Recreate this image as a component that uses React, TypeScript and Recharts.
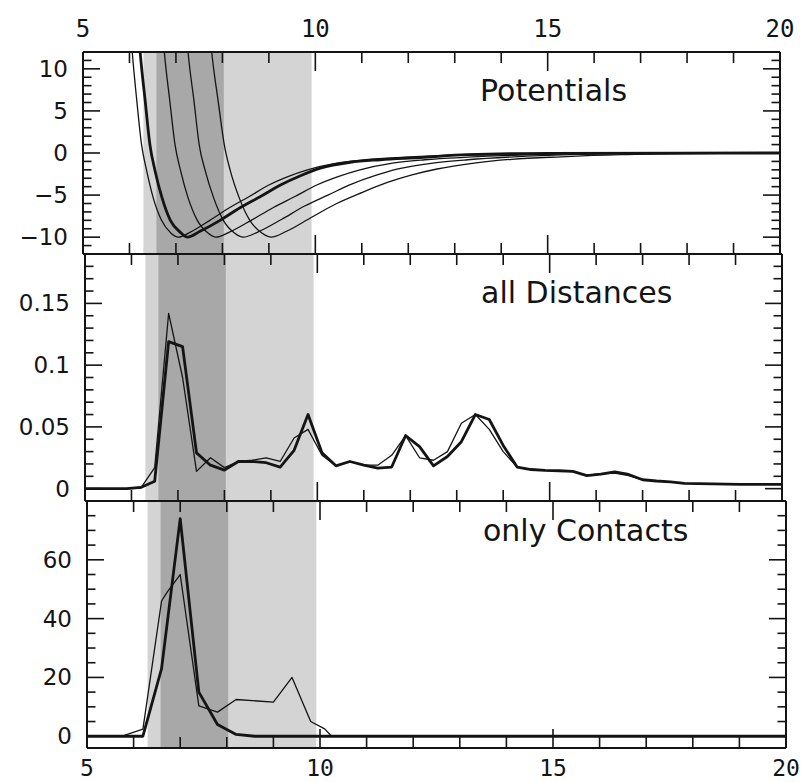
import React from 'react';
import { LineChart, Line, XAxis, YAxis, ReferenceArea } from 'recharts';

const INK = '#141414';
const LIGHT_BAND = '#d4d4d4';
const DARK_BAND = '#a8a8a8';

// ---- shared x axis ----
const xTicks = [5, 6, 7, 8, 9, 10, 11, 12, 13, 14, 15, 16, 17, 18, 19, 20];
const xMajor = [5, 10, 15, 20];
const xLabels = ['5', '10', '15', '20'];

// shaded ranges
const lightBand = [6.3, 9.92];
const darkBand = [6.58, 8.03];

// ---- panel 1: Potentials ----
const potTicks = [-11, -10, -9, -8, -7, -6, -5, -4, -3, -2, -1, 0, 1, 2, 3, 4, 5, 6, 7, 8, 9, 10, 11];
const potMajor = [-10, -5, 0, 5, 10];
const potLabels = ['\u221210', '\u22125', '0', '5', '10'];

const potAx = [5.92, 6.06, 6.16, 6.26, 6.37, 6.51, 6.69, 6.89, 7.05, 7.31, 7.73, 8.15, 8.57, 9.0, 9.41, 9.83, 10.46, 11.08, 11.91, 12.9, 14.59, 20];
const potAy = [24, 12, 6.1, 1.0, -2.1, -5.3, -8.0, -9.5, -10, -9.4, -8.0, -6.5, -5.2, -3.8, -2.8, -2.0, -1.2, -0.8, -0.5, -0.25, -0.05, 0];
const potBx = [6.09, 6.23, 6.34, 6.44, 6.55, 6.7, 6.88, 7.09, 7.25, 7.52, 7.95, 8.38, 8.81, 9.25, 9.68, 10.11, 10.75, 11.4, 12.25, 13.27, 15.01, 20];
const potBy = [24, 12, 6.1, 1.0, -2.1, -5.3, -8.0, -9.4, -10, -9.3, -8.0, -6.5, -5.2, -3.8, -2.7, -1.8, -1.1, -0.8, -0.55, -0.2, -0.05, 0];
const potCx = [6.6, 6.75, 6.87, 6.98, 7.1, 7.26, 7.46, 7.69, 7.86, 8.15, 8.62, 9.09, 9.55, 10.03, 10.49, 10.96, 11.66, 12.36, 13.28, 14.38, 16.27, 20];
const potCy = [24, 12, 6.1, 1.0, -2.1, -5.3, -8.0, -9.5, -10, -9.4, -8.0, -6.5, -5.2, -3.8, -2.8, -2.0, -1.2, -0.8, -0.5, -0.25, -0.05, 0];
const potDx = [7.1, 7.26, 7.39, 7.5, 7.63, 7.81, 8.02, 8.26, 8.45, 8.76, 9.27, 9.77, 10.27, 10.78, 11.28, 11.78, 12.53, 13.28, 14.28, 15.46, 17.49, 20];
const potDy = [24, 12, 6.1, 1.0, -2.1, -5.3, -8.0, -9.5, -10, -9.4, -7.9, -6.3, -5.0, -3.7, -2.7, -1.9, -1.2, -0.8, -0.45, -0.2, -0.05, 0];
const potEx = [7.6, 7.77, 7.91, 8.04, 8.17, 8.36, 8.59, 8.85, 9.05, 9.38, 9.93, 10.46, 11.0, 11.55, 12.08, 12.62, 13.42, 14.23, 15.29, 16.56, 18.73, 20];
const potEy = [24, 12, 6.1, 1.0, -2.1, -5.3, -8.0, -9.5, -10, -9.3, -7.6, -6.0, -4.7, -3.5, -2.6, -1.9, -1.2, -0.75, -0.45, -0.2, -0.05, 0];

// ---- panel 2: all Distances ----
const distTicks = [0, 0.01, 0.02, 0.03, 0.04, 0.05, 0.06, 0.07, 0.08, 0.09, 0.1, 0.11, 0.12, 0.13, 0.14, 0.15, 0.16, 0.17, 0.18];
const distMajor = [0, 0.05, 0.1, 0.15];
const distLabels = ['0', '0.05', '0.1', '0.15'];

const distX = [
  5.0, 5.3, 5.6, 5.9, 6.2, 6.5, 6.8, 7.1, 7.4, 7.7,
  8.0, 8.3, 8.6, 8.9, 9.2, 9.5, 9.8, 10.1, 10.4, 10.7,
  11.0, 11.3, 11.6, 11.9, 12.2, 12.5, 12.8, 13.1, 13.4, 13.7,
  14.0, 14.3, 14.6, 14.9, 15.2, 15.5, 15.8, 16.1, 16.4, 16.7,
  17.0, 17.3, 17.6, 17.9, 18.2, 18.5, 18.8, 19.1, 19.4, 19.7,
  20.0,
];
const distBold = [
  0, 0, 0, 0, 0.001, 0.006, 0.119, 0.115, 0.029, 0.019,
  0.015, 0.022, 0.022, 0.021, 0.0175, 0.031, 0.06, 0.029, 0.0185, 0.022,
  0.019, 0.0167, 0.0175, 0.043, 0.034, 0.0185, 0.026, 0.038, 0.06, 0.056,
  0.035, 0.0175, 0.0155, 0.0148, 0.0145, 0.014, 0.0105, 0.0118, 0.0135, 0.0115,
  0.0072, 0.0062, 0.0055, 0.0042, 0.004, 0.0038, 0.0036, 0.0035, 0.0035, 0.0035,
  0.0035,
];
const distThin = [
  0, 0, 0, 0, 0.0005, 0.017, 0.142, 0.09, 0.014, 0.025,
  0.017, 0.022, 0.023, 0.025, 0.022, 0.041, 0.048, 0.027, 0.0185, 0.022,
  0.019, 0.019, 0.027, 0.043, 0.025, 0.023, 0.03, 0.053, 0.06, 0.048,
  0.03, 0.0175, 0.0155, 0.0148, 0.0145, 0.0138, 0.011, 0.012, 0.0125, 0.0105,
  0.0072, 0.0062, 0.0055, 0.0042, 0.004, 0.0038, 0.0036, 0.0035, 0.0035, 0.0035,
  0.0035,
];

// ---- panel 3: only Contacts ----
const contTicks = [0, 5, 10, 15, 20, 25, 30, 35, 40, 45, 50, 55, 60, 65, 70, 75];
const contMajor = [0, 20, 40, 60];
const contLabels = ['0', '20', '40', '60'];

const contBoldX = [5.0, 5.4, 5.8, 6.2, 6.6, 7.0, 7.4, 7.8, 8.2, 8.6, 20.0];
const contBoldY = [0, 0, 0, 0, 23, 74, 15, 4, 0.6, 0, 0];
const contThinX = [5.0, 5.4, 5.8, 6.2, 6.6, 6.72, 7.0, 7.4, 7.8, 8.2, 9.0, 9.4, 9.8, 10.1, 10.25, 20.0];
const contThinY = [0, 0, 0.3, 2.4, 46, 49, 55, 10.3, 8.2, 12.5, 11.6, 20, 5, 2.5, 0, 0];

const titles = ['Potentials', 'all Distances', 'only Contacts'];

const toPts = (xs: number[], ys: number[]) => xs.map((x, i) => ({ x, y: ys[i] }));

const makeXTick = (side: 'top' | 'bottom', showLabels: boolean) => (props: any) => {
  const { x, y, payload } = props;
  const idx = xMajor.indexOf(payload.value);
  const major = idx >= 0;
  const len = major ? 19 : 11;
  const dir = side === 'top' ? 1 : -1;
  const off = side === 'top' ? 23 : 20;
  return (
    <g>
      <line x1={x} y1={y} x2={x} y2={y + dir * len} stroke={INK} strokeWidth={1.6} />
      {showLabels && major ? (
        <text
          x={x}
          y={y - dir * off}
          textAnchor="middle"
          dominantBaseline="central"
          fontFamily="DejaVu Sans Mono"
          fontSize={side === 'top' ? 24 : 23}
          fill={INK}
        >
          {xLabels[idx]}
        </text>
      ) : null}
    </g>
  );
};

const makeYTick = (side: 'left' | 'right', majors: number[], labels: string[]) => (props: any) => {
  const { x, y, payload } = props;
  const idx = majors.indexOf(payload.value);
  const major = idx >= 0;
  const len = major ? 17 : 8.5;
  const dir = side === 'left' ? 1 : -1;
  return (
    <g>
      <line x1={x} y1={y} x2={x + dir * len} y2={y} stroke={INK} strokeWidth={1.6} />
      {side === 'left' && major ? (
        <text
          x={x - 15}
          y={y}
          textAnchor="end"
          dominantBaseline="central"
          fontFamily="DejaVu Sans"
          fontSize={23}
          fill={INK}
        >
          {labels[idx]}
        </text>
      ) : null}
    </g>
  );
};

type PanelProps = {
  top: number;
  height: number;
  margin: { top: number; right: number; bottom: number; left: number };
  domain: [number, number];
  yTicks: number[];
  yMajor: number[];
  yLabels: string[];
  topLabels: boolean;
  bottomLabels: boolean;
  series: { data: { x: number; y: number }[]; width: number; curve: 'monotone' | 'linear' }[];
};

const axisLine = { stroke: INK, strokeWidth: 2 };

function Panel(p: PanelProps) {
  return (
    <div style={{ position: 'absolute', left: 0, top: p.top, width: 803, height: p.height }}>
      <LineChart width={803} height={p.height} margin={p.margin}>
        <XAxis
          xAxisId="b"
          orientation="bottom"
          type="number"
          dataKey="x"
          domain={[5, 20]}
          allowDataOverflow
          ticks={xTicks}
          interval={0}
          height={1}
          tickSize={0}
          tickMargin={0}
          tickLine={false}
          axisLine={axisLine}
          tick={makeXTick('bottom', p.bottomLabels)}
        />
        <XAxis
          xAxisId="t"
          orientation="top"
          type="number"
          dataKey="x"
          domain={[5, 20]}
          allowDataOverflow
          ticks={xTicks}
          interval={0}
          height={1}
          tickSize={0}
          tickMargin={0}
          tickLine={false}
          axisLine={axisLine}
          tick={makeXTick('top', p.topLabels)}
        />
        <YAxis
          yAxisId="l"
          orientation="left"
          type="number"
          domain={p.domain}
          allowDataOverflow
          ticks={p.yTicks}
          interval={0}
          width={1}
          tickSize={0}
          tickMargin={0}
          tickLine={false}
          axisLine={axisLine}
          tick={makeYTick('left', p.yMajor, p.yLabels)}
        />
        <YAxis
          yAxisId="r"
          orientation="right"
          type="number"
          domain={p.domain}
          allowDataOverflow
          ticks={p.yTicks}
          interval={0}
          width={1}
          tickSize={0}
          tickMargin={0}
          tickLine={false}
          axisLine={axisLine}
          tick={makeYTick('right', p.yMajor, p.yLabels)}
        />
        <ReferenceArea
          xAxisId="b"
          yAxisId="l"
          x1={lightBand[0]}
          x2={lightBand[1]}
          fill={LIGHT_BAND}
          fillOpacity={1}
          stroke="none"
        />
        <ReferenceArea
          xAxisId="b"
          yAxisId="l"
          x1={darkBand[0]}
          x2={darkBand[1]}
          fill={DARK_BAND}
          fillOpacity={1}
          stroke="none"
        />
        {p.series.map((s, i) => (
          <Line
            key={i}
            xAxisId="b"
            yAxisId="l"
            data={s.data}
            dataKey="y"
            type={s.curve}
            stroke={INK}
            strokeWidth={s.width}
            dot={false}
            activeDot={false}
            isAnimationActive={false}
            strokeLinejoin="round"
          />
        ))}
      </LineChart>
    </div>
  );
}

export default function App() {
  return (
    <div style={{ position: 'absolute', left: 0, top: 0, width: 803, height: 782, background: '#fff', overflow: 'hidden' }}>
      <Panel
        top={0}
        height={256}
        margin={{ top: 51, right: 22, bottom: 1, left: 82 }}
        domain={[-12, 12]}
        yTicks={potTicks}
        yMajor={potMajor}
        yLabels={potLabels}
        topLabels
        bottomLabels={false}
        series={[
          { data: toPts(potAx, potAy), width: 1.3, curve: 'monotone' },
          { data: toPts(potCx, potCy), width: 1.3, curve: 'monotone' },
          { data: toPts(potDx, potDy), width: 1.3, curve: 'monotone' },
          { data: toPts(potEx, potEy), width: 1.3, curve: 'monotone' },
          { data: toPts(potBx, potBy), width: 2.8, curve: 'monotone' },
        ]}
      />
      <Panel
        top={252}
        height={251}
        margin={{ top: 1, right: 20, bottom: 1, left: 84 }}
        domain={[-0.01, 0.19]}
        yTicks={distTicks}
        yMajor={distMajor}
        yLabels={distLabels}
        topLabels={false}
        bottomLabels={false}
        series={[
          { data: toPts(distX, distThin), width: 1.3, curve: 'linear' },
          { data: toPts(distX, distBold), width: 2.8, curve: 'linear' },
        ]}
      />
      <Panel
        top={499}
        height={283}
        margin={{ top: 1, right: 16, bottom: 33, left: 86 }}
        domain={[-4, 80]}
        yTicks={contTicks}
        yMajor={contMajor}
        yLabels={contLabels}
        topLabels={false}
        bottomLabels
        series={[
          { data: toPts(contThinX, contThinY), width: 1.3, curve: 'linear' },
          { data: toPts(contBoldX, contBoldY), width: 2.8, curve: 'linear' },
        ]}
      />
      <svg
        width={803}
        height={782}
        style={{ position: 'absolute', left: 0, top: 0, pointerEvents: 'none' }}
      >
        <text x={480} y={101} fontFamily="DejaVu Sans" fontSize={30} fill={INK}>
          {titles[0]}
        </text>
        <text x={481} y={303} fontFamily="DejaVu Sans" fontSize={30} fill={INK}>
          {titles[1]}
        </text>
        <text x={483} y={541} fontFamily="DejaVu Sans" fontSize={30} fill={INK}>
          {titles[2]}
        </text>
      </svg>
    </div>
  );
}
